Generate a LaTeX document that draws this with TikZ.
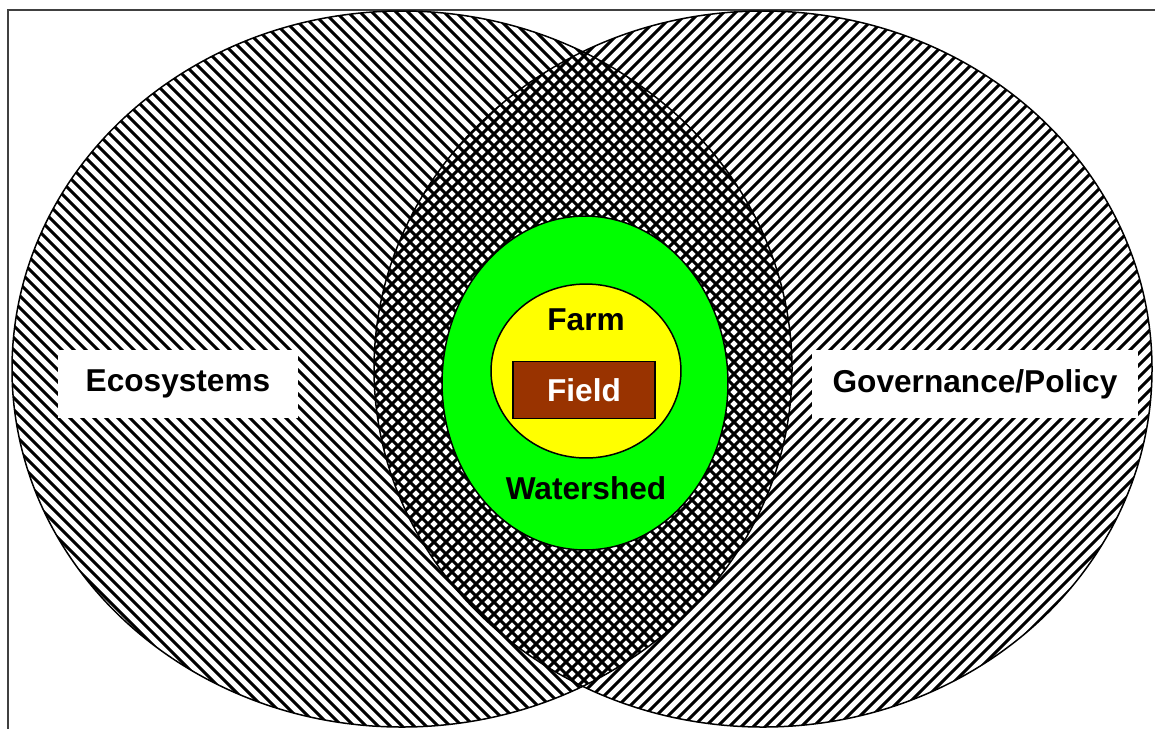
\documentclass[tikz,border=0pt]{standalone}
\usepackage{fontspec}
\setmainfont{Liberation Sans}
\usetikzlibrary{shapes.geometric}
\definecolor{watergreen}{HTML}{00FF00}
\definecolor{farmyellow}{HTML}{FFFF00}
\definecolor{fieldbrown}{HTML}{993300}
\tikzset{
    hatch/.style={line width=0.058cm, black},
    outline/.style={draw=black, line width=0.03cm},
    bigtext/.style={font=\fontsize{18}{20}\selectfont\bfseries},
    labelbox/.style={rectangle, fill=white, minimum height=1.36cm, text centered, bigtext},
    ring/.style={ellipse, outline, inner sep=0pt},
}
\begin{document}
\begin{tikzpicture}[x=0.02cm, y=-0.02cm]
    \useasboundingbox (0,0) rectangle (1155,728);
    \fill[white] (0,0) rectangle (1155,728);
    % frame
    \draw[line width=0.045cm, black!75] (1170,10) -- (8,10) -- (8,740);

    % Ecosystems set, lines down to the right
    \begin{scope}
        \clip (402,369) ellipse [x radius=390, y radius=358];
        \foreach \c in {-540,-528,...,590}
            \draw[hatch] (\c,0) -- ++(760,760);
    \end{scope}
    % Governance set, lines down to the left
    \begin{scope}
        \clip (763,369) ellipse [x radius=389, y radius=358];
        \foreach \c in {580,592,...,1690}
            \draw[hatch] (\c,0) -- ++(-760,760);
    \end{scope}
    \draw[outline] (402,369) ellipse [x radius=390, y radius=358];
    \draw[outline] (763,369) ellipse [x radius=389, y radius=358];

    \node[labelbox, minimum width=4.8cm] (ecosystems) at (178,384) {Ecosystems};
    \node[labelbox, minimum width=6.52cm] (governance) at (975,384) {Governance/Policy};

    % nested scales
    \node[ring, fill=watergreen, minimum width=5.72cm, minimum height=6.68cm] (watershed) at (585,383) {};
    \node[ring, fill=farmyellow, minimum width=3.8cm, minimum height=3.48cm] (farm) at (586,371) {};
    \node[rectangle, outline, fill=fieldbrown, minimum width=2.84cm, minimum height=1.14cm, inner sep=0pt, text=white, bigtext] (field) at (584,390) {Field};
    \node[bigtext] (farmlabel) at (586,320) {Farm};
    \node[bigtext] (watershedlabel) at (586,488) {Watershed};
\end{tikzpicture}
\end{document}
